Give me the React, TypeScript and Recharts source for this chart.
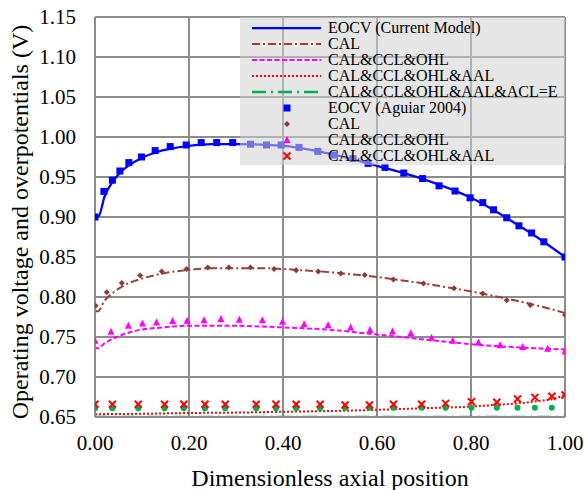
import { ComposedChart, Line, Scatter, XAxis, YAxis, CartesianGrid, Legend, Label } from "recharts";

// series names, in legend order
const seriesNames = [
  "EOCV (Current Model)",
  "CAL",
  "CAL&CCL&OHL",
  "CAL&CCL&OHL&AAL",
  "CAL&CCL&OHL&AAL&ACL=E",
  "EOCV (Aguiar 2004)",
  "CAL",
  "CAL&CCL&OHL",
  "CAL&CCL&OHL&AAL",
];

const xTicks = [0, 0.2, 0.4, 0.6, 0.8, 1.0];
const yTicks = [0.65, 0.7, 0.75, 0.8, 0.85, 0.9, 0.95, 1.0, 1.05, 1.1, 1.15];

// model curves
const eocvModelX = [0, 0.008, 0.02, 0.04, 0.06, 0.1, 0.13, 0.2, 0.25, 0.3, 0.4, 0.5, 0.6, 0.7, 0.8, 0.9, 0.95, 1.0];
const eocvModelV = [0.9, 0.901, 0.925, 0.946, 0.959, 0.974, 0.981, 0.989, 0.991, 0.991, 0.989, 0.979, 0.964, 0.947, 0.924, 0.89, 0.871, 0.85];

const calModelX = [0, 0.006, 0.02, 0.04, 0.06, 0.1, 0.15, 0.2, 0.25, 0.3, 0.35, 0.4, 0.45, 0.5, 0.55, 0.6, 0.65, 0.7, 0.75, 0.8, 0.85, 0.9, 0.95, 1.0];
const calModelV = [0.783, 0.782, 0.795, 0.806, 0.814, 0.823, 0.83, 0.834, 0.836, 0.836, 0.836, 0.835, 0.833, 0.831, 0.828, 0.825, 0.821, 0.817, 0.812, 0.807, 0.801, 0.795, 0.788, 0.78];

const ohlModelX = [0, 0.005, 0.02, 0.046, 0.088, 0.145, 0.2, 0.29, 0.4, 0.5, 0.6, 0.7, 0.8, 0.9, 1.0];
const ohlModelV = [0.738, 0.7355, 0.742, 0.75, 0.758, 0.762, 0.764, 0.764, 0.762, 0.759, 0.753, 0.747, 0.741, 0.737, 0.7345];

const aalModelX = [0, 0.1, 0.2, 0.3, 0.4, 0.5, 0.6, 0.7, 0.8, 0.85, 0.9, 0.95, 0.97, 1.0];
const aalModelV = [0.6535, 0.654, 0.655, 0.6555, 0.6565, 0.6575, 0.659, 0.661, 0.663, 0.665, 0.667, 0.6705, 0.672, 0.6775];

const aclModelX = [0, 1.0];
const aclModelV = [0.65, 0.65];

// measured / reference points
const eocvDataX = [0, 0.019, 0.037, 0.053, 0.072, 0.099, 0.128, 0.16, 0.194, 0.226, 0.259, 0.293, 0.331, 0.365, 0.396, 0.434, 0.474, 0.509, 0.549, 0.581, 0.617, 0.657, 0.697, 0.732, 0.766, 0.798, 0.825, 0.848, 0.876, 0.902, 0.929, 0.955, 1.0];
const eocvDataV = [0.9, 0.932, 0.946, 0.9575, 0.968, 0.975, 0.983, 0.988, 0.99, 0.993, 0.993, 0.993, 0.991, 0.99, 0.99, 0.987, 0.982, 0.9775, 0.973, 0.967, 0.962, 0.955, 0.948, 0.939, 0.9325, 0.924, 0.918, 0.909, 0.899, 0.889, 0.88, 0.869, 0.85];

const calDataX = [0.0015, 0.025, 0.057, 0.096, 0.142, 0.195, 0.24, 0.285, 0.331, 0.381, 0.428, 0.475, 0.523, 0.574, 0.635, 0.699, 0.764, 0.825, 0.876, 0.926, 1.0];
const calDataV = [0.789, 0.806, 0.8175, 0.827, 0.832, 0.835, 0.837, 0.837, 0.837, 0.835, 0.8335, 0.832, 0.8295, 0.8275, 0.822, 0.817, 0.811, 0.8045, 0.796, 0.79, 0.7775];

const ohlDataX = [0, 0.034, 0.071, 0.101, 0.131, 0.165, 0.196, 0.232, 0.268, 0.307, 0.356, 0.399, 0.445, 0.496, 0.544, 0.585, 0.633, 0.672, 0.716, 0.761, 0.816, 0.862, 0.91, 0.963, 1.0];
const ohlDataV = [0.7454, 0.7566, 0.764, 0.767, 0.768, 0.77, 0.7704, 0.771, 0.7725, 0.7716, 0.771, 0.769, 0.766, 0.7646, 0.762, 0.7588, 0.757, 0.7546, 0.749, 0.7454, 0.743, 0.7396, 0.7375, 0.7354, 0.732];

const aalDataX = [0, 0.037, 0.092, 0.148, 0.189, 0.234, 0.277, 0.343, 0.385, 0.428, 0.479, 0.532, 0.584, 0.635, 0.695, 0.746, 0.801, 0.855, 0.899, 0.936, 0.972, 1.0];
const aalDataV = [0.666, 0.666, 0.666, 0.666, 0.666, 0.666, 0.666, 0.666, 0.666, 0.666, 0.666, 0.665, 0.665, 0.666, 0.666, 0.667, 0.669, 0.6685, 0.6725, 0.6745, 0.676, 0.6775];

const aclDataX = [0, 0.037, 0.092, 0.148, 0.189, 0.234, 0.277, 0.343, 0.385, 0.428, 0.479, 0.532, 0.584, 0.635, 0.695, 0.746, 0.801, 0.855, 0.899, 0.936, 0.972];
const aclDataV = [0.661, 0.661, 0.661, 0.661, 0.661, 0.661, 0.661, 0.661, 0.661, 0.661, 0.661, 0.6615, 0.6615, 0.6615, 0.6615, 0.6615, 0.6615, 0.6615, 0.6615, 0.6615, 0.6615];

const zip = (xs: number[], ys: number[]) => xs.map((x, i) => ({ x, y: ys[i] }));

const FONT = "'Liberation Serif', 'Times New Roman', serif";

const COLORS = {
  blue: "#0000FF",
  brown: "#9C3F3A",
  brownDot: "#8B3A36",
  magenta: "#FF00FF",
  red: "#FF0000",
  green: "#00B050",
  grid: "#8C8C8C",
};

const LINE_STYLES = [
  { color: COLORS.blue, dash: undefined, width: 2.25 },
  { color: COLORS.brown, dash: "8 3 2 3", width: 2 },
  { color: COLORS.magenta, dash: "5 2.5", width: 2 },
  { color: COLORS.red, dash: "2 2", width: 2 },
  { color: COLORS.green, dash: "14 5 2 5", width: 2.5 },
];

const Square = ({ cx, cy, alpha = 1 }: any) => (
  <rect x={cx - 3.5} y={cy - 3.5} width={7} height={7} fill={COLORS.blue} fillOpacity={alpha} />
);
const Diamond = ({ cx, cy }: any) => (
  <polygon points={`${cx},${cy - 3} ${cx + 3},${cy} ${cx},${cy + 3} ${cx - 3},${cy}`} fill={COLORS.brownDot} />
);
const Triangle = ({ cx, cy }: any) => (
  <polygon points={`${cx},${cy - 4} ${cx + 3.5},${cy + 3} ${cx - 3.5},${cy + 3}`} fill={COLORS.magenta} />
);
const Cross = ({ cx, cy }: any) => (
  <g stroke={COLORS.red} strokeWidth={2}>
    <line x1={cx - 3.5} y1={cy - 3.5} x2={cx + 3.5} y2={cy + 3.5} />
    <line x1={cx - 3.5} y1={cy + 3.5} x2={cx + 3.5} y2={cy - 3.5} />
  </g>
);
const Dot = ({ cx, cy }: any) => <circle cx={cx} cy={cy} r={3} fill={COLORS.green} />;

const MARKERS = [Square, Diamond, Triangle, Cross];

// legend drawn over the plot with a see-through grey box
const LegendBox = () => (
  <div
    style={{
      width: 325,
      height: 148,
      background: "rgba(210,210,210,0.55)",
      boxSizing: "border-box",
      paddingTop: 3,
      fontFamily: FONT,
      fontSize: 16,
      color: "#000",
    }}
  >
    {seriesNames.map((name, i) => {
      const Marker = i >= 5 ? MARKERS[i - 5] : null;
      const st = i < 5 ? LINE_STYLES[i] : null;
      return (
        <div key={i} style={{ height: 16, lineHeight: "16px", position: "relative", whiteSpace: "nowrap" }}>
          <svg width={84} height={16} style={{ position: "absolute", left: 0, top: 0 }}>
            {st && (
              <line x1={12} y1={8} x2={81} y2={8} stroke={st.color} strokeWidth={st.width} strokeDasharray={st.dash} />
            )}
            {Marker && <Marker cx={47} cy={8} />}
          </svg>
          <span style={{ position: "absolute", left: 88, top: 0 }}>{name}</span>
        </div>
      );
    })}
  </div>
);

export default function App() {
  const tickStyle = { fill: "#000", fontSize: 21, fontFamily: FONT };
  return (
    <div style={{ position: "absolute", left: 0, top: 0, background: "#fff" }}>
      <ComposedChart width={585} height={490} margin={{ top: 17, right: 20, bottom: 13, left: 35 }}>
        <CartesianGrid stroke={COLORS.grid} strokeWidth={2} />
        <XAxis
          type="number"
          dataKey="x"
          domain={[0, 1]}
          ticks={xTicks}
          tickFormatter={(v: number) => v.toFixed(2)}
          tick={tickStyle}
          tickLine={false}
          tickSize={6}
          tickMargin={12}
          height={60}
          axisLine={{ stroke: COLORS.grid, strokeWidth: 2 }}
          allowDataOverflow
        >
          <Label
            content={() => (
              <text x={330} y={486} textAnchor="middle" fontSize={24} fontFamily={FONT} fill="#000">
                Dimensionless axial position
              </text>
            )}
          />
        </XAxis>
        <YAxis
          type="number"
          dataKey="y"
          domain={[0.65, 1.15]}
          ticks={yTicks}
          tickFormatter={(v: number) => v.toFixed(2)}
          tick={tickStyle}
          tickLine={false}
          tickSize={6}
          tickMargin={13}
          width={60}
          axisLine={{ stroke: COLORS.grid, strokeWidth: 2 }}
          allowDataOverflow
        >
          <Label
            content={() => (
              <text
                transform="rotate(-90)"
                x={-222}
                y={28}
                textAnchor="middle"
                fontSize={24}
                fontFamily={FONT}
                fill="#000"
              >
                Operating voltage and overpotentials (V)
              </text>
            )}
          />
        </YAxis>

        <Line data={zip(aclModelX, aclModelV)} dataKey="y" type="linear" stroke={COLORS.green} strokeWidth={2.5} strokeDasharray="14 5 2 5" dot={false} isAnimationActive={false} />
        <Line data={zip(aalModelX, aalModelV)} dataKey="y" type="monotone" stroke={COLORS.red} strokeWidth={2} strokeDasharray="2 2" dot={false} isAnimationActive={false} />
        <Line data={zip(ohlModelX, ohlModelV)} dataKey="y" type="monotone" stroke={COLORS.magenta} strokeWidth={2} strokeDasharray="5 2.5" dot={false} isAnimationActive={false} />
        <Line data={zip(calModelX, calModelV)} dataKey="y" type="monotone" stroke={COLORS.brown} strokeWidth={2} strokeDasharray="8 3 2 3" dot={false} isAnimationActive={false} />
        <Line data={zip(eocvModelX, eocvModelV)} dataKey="y" type="monotone" stroke={COLORS.blue} strokeWidth={2.25} dot={false} isAnimationActive={false} />

        <Scatter data={zip(eocvDataX, eocvDataV)} dataKey="y" shape={Square} isAnimationActive={false} />
        <Scatter data={zip(calDataX, calDataV)} dataKey="y" shape={Diamond} isAnimationActive={false} />
        <Scatter data={zip(ohlDataX, ohlDataV)} dataKey="y" shape={Triangle} isAnimationActive={false} />
        <Scatter data={zip(aclDataX, aclDataV)} dataKey="y" shape={Dot} isAnimationActive={false} />
        <Scatter data={zip(aalDataX, aalDataV)} dataKey="y" shape={Cross} isAnimationActive={false} />

        <Legend
          layout="vertical"
          align="center"
          verticalAlign="middle"
          content={() => <LegendBox />}
          wrapperStyle={{ left: 240, top: 17, width: 325, height: 148 }}
        />
      </ComposedChart>
    </div>
  );
}
